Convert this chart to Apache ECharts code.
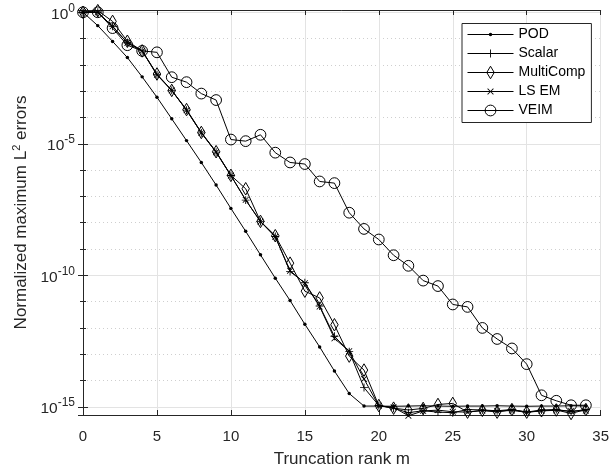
<!DOCTYPE html>
<html>
<head>
<meta charset="utf-8">
<script src="https://cdn.jsdelivr.net/npm/echarts@6/dist/echarts.min.js"></script>
<style>html,body{margin:0;padding:0;background:#fff;}#c{width:612px;height:473px;}</style>
</head>
<body>
<div id="c"></div>
<script>
const ranks = [0,1,2,3,4,5,6,7,8,9,10,11,12,13,14,15,16,17,18,19,20,21,22,23,24,25,26,27,28,29,30,31,32,33,34];
const seriesNames = ['POD','Scalar','MultiComp','LS EM','VEIM'];
const podErr = [1,3.1e-1,7.8e-2,1.9e-2,3.5e-3,5.9e-4,8.9e-5,1.32e-5,1.95e-6,2.7e-7,3.5e-8,4.7e-9,6.0e-10,7.8e-11,1.1e-11,1.38e-12,1.9e-13,2.3e-14,3.2e-15,1.07e-15,1.07e-15,1.05e-15,1.07e-15,1.1e-15,1.07e-15,1.05e-15,1.07e-15,1.07e-15,1.1e-15,1.07e-15,1.05e-15,1.07e-15,1.07e-15,1.1e-15,1.07e-15];
const scalarErr = [1,1.0,2.9e-1,6.9e-2,3.4e-2,4.2e-3,1.07e-3,1.9e-4,2.6e-5,4.8e-6,6.2e-7,7.2e-8,1.12e-8,3.0e-9,1.38e-10,5.2e-11,6.8e-12,4.8e-13,1.26e-13,5.4e-15,1.12e-15,8.9e-16,6.0e-16,7.1e-16,6.3e-16,6.0e-16,7.9e-16,7.6e-16,7.1e-16,7.9e-16,6.3e-16,7.6e-16,7.9e-16,6.6e-16,7.9e-16];
const multiCompErr = [1,1.15,4.5e-1,7.9e-2,3.4e-2,4.5e-3,1.07e-3,2.0e-4,2.7e-5,5.0e-6,6.3e-7,1.95e-7,1.12e-8,3.2e-9,2.9e-10,2.5e-11,1.38e-11,1.32e-12,8.5e-14,2.5e-14,1.12e-15,8.9e-16,7.6e-16,8.7e-16,1.23e-15,1.35e-15,6.3e-16,7.4e-16,6.3e-16,7.9e-16,6.3e-16,7.1e-16,7.6e-16,5.6e-16,7.9e-16];
const lsemErr = [1,1.0,2.9e-1,6.9e-2,3.4e-2,4.2e-3,1.07e-3,1.9e-4,2.6e-5,4.8e-6,6.2e-7,7.4e-8,1.1e-8,2.9e-9,1.5e-10,5.0e-11,6.5e-12,4.0e-13,1.3e-13,1.15e-14,1.1e-15,9.5e-16,4.6e-16,7.0e-16,7.5e-16,6.5e-16,6.3e-16,7.2e-16,6.8e-16,7.3e-16,6.2e-16,7.0e-16,7.4e-16,6.9e-16,7.2e-16];
const veimErr = [1,1.0,2.5e-1,5.6e-2,3.4e-2,3.0e-2,3.4e-3,2.2e-3,8.1e-4,4.6e-4,1.45e-5,1.26e-5,2.2e-5,4.6e-6,1.95e-6,1.7e-6,3.7e-7,3.2e-7,2.4e-8,5.8e-9,2.3e-9,5.8e-10,2.3e-10,6.3e-11,3.9e-11,7.8e-12,6.3e-12,1.0e-12,3.8e-13,1.66e-13,4.2e-14,2.75e-15,1.7e-15,1.15e-15,1.15e-15];
const xTicks = [0,5,10,15,20,25,30,35];
const yDecadeTicks = [0,-5,-10,-15];

const FONT = 'Liberation Sans, Arial, Helvetica, sans-serif';
const AX = '#262626';
const LW = 1;
const toPts = arr => ranks.map((m,i) => [m, Math.log10(arr[i])]);

// Marker paths drawn in a [-1,1] box (padded with move points) so legend and plot markers share size.
const PAD = 'M-1,-1M1,1';
const dotPath = 'path://' + PAD + 'M0.27,0A0.27,0.27 0 1 1 -0.27,0A0.27,0.27 0 1 1 0.27,0Z';
const circPath = 'path://' + PAD + 'M0.84,0A0.84,0.84 0 1 1 -0.84,0A0.84,0.84 0 1 1 0.84,0Z';
const diamPath = 'path://' + PAD + 'M0,-0.98L0.58,0L0,0.98L-0.58,0Z';
const plusPath = 'path://' + PAD + 'M-0.07,-0.62H0.07V-0.07H0.62V0.07H0.07V0.62H-0.07V0.07H-0.62V-0.07H-0.07Z';
const xPath = 'path://' + PAD + 'M-0.5,-0.41L-0.41,-0.5L0,-0.09L0.41,-0.5L0.5,-0.41L0.09,0L0.5,0.41L0.41,0.5L0,0.09L-0.41,0.5L-0.5,0.41L-0.09,0Z';
const MS = 12.8;
const hollowFlags = [false, false, true, false, true];

const filledStyle = {color: '#000', borderWidth: 0};
const hollowStyle = {color: 'rgba(0,0,0,0)', borderColor: '#000', borderWidth: LW};

function mk(idx, data, symbol) {
  return {
    name: seriesNames[idx], type: 'line', data: toPts(data), symbol, symbolSize: MS,
    showAllSymbol: true, animation: false, clip: false,
    lineStyle: {color: '#000', width: LW},
    itemStyle: hollowFlags[idx] ? hollowStyle : filledStyle,
    emphasis: {disabled: true}
  };
}

const yLabelFmt = v => {
  const r = Math.round(v);
  if (Math.abs(v - r) > 1e-6 || yDecadeTicks.indexOf(r) < 0) return '';
  return '{b|10}{s|' + r + '}';
};

const yBase = {
  type: 'value', min: -15.31, max: 0.086, minInterval: 5, maxInterval: 5,
  axisLine: {show: true, lineStyle: {color: AX, width: 1}},
  axisTick: {show: true, inside: true, length: 5, lineStyle: {color: AX}},
  minorTick: {show: true, splitNumber: 5, length: 3, lineStyle: {color: AX}},
};

const chart = echarts.init(document.getElementById('c'), null, {renderer: 'canvas'});
chart.setOption({
  backgroundColor: '#fff',
  animation: false,
  grid: {left: 83, right: 6, top: 10, bottom: 51, containLabel: false},
  xAxis: [{
    type: 'value', min: 0, max: 35, interval: 5, position: 'bottom',
    name: 'Truncation rank m', nameLocation: 'middle', nameGap: 36,
    nameTextStyle: {fontFamily: FONT, fontSize: 17, color: '#262626'},
    axisLine: {show: true, onZero: false, lineStyle: {color: AX, width: 1}},
    axisTick: {show: true, inside: true, length: 5, lineStyle: {color: AX}},
    axisLabel: {fontFamily: FONT, fontSize: 15, color: '#262626', margin: 14,
      formatter: v => xTicks.indexOf(v) >= 0 ? String(v) : ''},
    splitLine: {show: true, lineStyle: {color: '#e3e3e3', width: 1}}
  }, {
    type: 'value', min: 0, max: 35, interval: 5, position: 'top',
    axisLine: {show: true, onZero: false, lineStyle: {color: AX, width: 1}},
    axisTick: {show: true, inside: true, length: 5, lineStyle: {color: AX}},
    axisLabel: {show: false}, splitLine: {show: false}
  }],
  yAxis: [Object.assign({}, yBase, {
    position: 'left',
    name: 'Normalized maximum L{s|2} errors', nameLocation: 'middle', nameGap: 41, nameRotate: 90,
    nameTextStyle: {fontFamily: FONT, fontSize: 17, color: '#262626',
      rich: {s: {fontFamily: FONT, fontSize: 11, color: '#262626', verticalAlign: 'top', lineHeight: 20}}},
    axisLabel: {fontFamily: FONT, color: '#262626', margin: 8, formatter: yLabelFmt,
      rich: {b: {fontFamily: FONT, fontSize: 15.5, color: '#262626', lineHeight: 20, verticalAlign: 'bottom'},
             s: {fontFamily: FONT, fontSize: 12, color: '#262626', lineHeight: 20, verticalAlign: 'top'}}},
    splitLine: {show: true, lineStyle: {color: '#e3e3e3', width: 1}},
    minorSplitLine: {show: true, lineStyle: {color: '#cfcfcf', width: 1, type: [1, 3]}}
  }), Object.assign({}, yBase, {
    position: 'right',
    axisLabel: {show: false}, splitLine: {show: false}, minorSplitLine: {show: false}
  })],
  legend: {
    orient: 'vertical', left: 462, top: 23.5,
    data: seriesNames.map((n, i) => ({
      name: n,
      lineStyle: {color: '#000', width: LW},
      itemStyle: hollowFlags[i] ? hollowStyle : filledStyle
    })),
    itemWidth: 46, itemHeight: 16, itemGap: 3,
    padding: [3, 6, 4, 5],
    backgroundColor: '#fff', borderColor: '#262626', borderWidth: 1,
    textStyle: {fontFamily: FONT, fontSize: 14, color: '#000', lineHeight: 16},
    selectedMode: false
  },
  series: [
    mk(0, podErr, dotPath),
    mk(1, scalarErr, plusPath),
    mk(2, multiCompErr, diamPath),
    mk(3, lsemErr, xPath),
    mk(4, veimErr, circPath)
  ]
});
</script>
</body>
</html>
